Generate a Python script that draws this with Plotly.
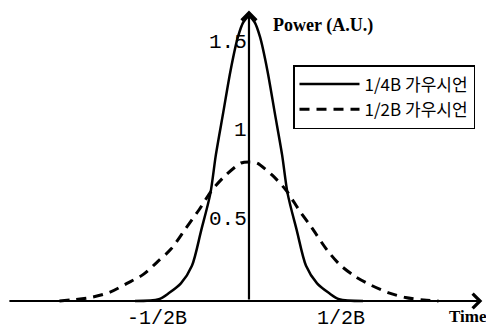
import plotly.graph_objects as go

# Time axis in units of 1/B; power in arbitrary units
solid_t = [-0.62, -0.49, -0.435, -0.37, -0.31, -0.26, -0.21, -0.18, -0.14, -0.10, -0.06, -0.03, 0.0,
           0.03, 0.06, 0.10, 0.14, 0.18, 0.21, 0.26, 0.31, 0.37, 0.435, 0.49, 0.62]
solid_p = [0.0, 0.01, 0.045, 0.10, 0.20, 0.40, 0.61, 0.83, 1.07, 1.31, 1.50, 1.585, 1.615,
           1.585, 1.50, 1.31, 1.07, 0.83, 0.61, 0.40, 0.20, 0.10, 0.045, 0.01, 0.0]

dash_t = [-1.03, -0.95, -0.85, -0.755, -0.663, -0.576, -0.495, -0.424, -0.342, -0.272, -0.201, -0.125, -0.043, 0.0,
          0.043, 0.125, 0.201, 0.272, 0.342, 0.424, 0.495, 0.576, 0.663, 0.755, 0.85, 0.95, 1.03]
dash_p = [0.0, 0.008, 0.022, 0.05, 0.10, 0.15, 0.225, 0.295, 0.415, 0.517, 0.63, 0.716, 0.784, 0.79,
          0.784, 0.716, 0.63, 0.517, 0.415, 0.29, 0.205, 0.14, 0.09, 0.048, 0.02, 0.006, 0.0]

series_names = ["1/4B 가우시언", "1/2B 가우시언"]
y_tick_vals = [0.5, 1.0, 1.5]
y_tick_text = ["0.5", "1", "1.5"]
x_tick_vals = [-0.5, 0.5]
x_tick_text = ["-1/2B", "1/2B"]

fig = go.Figure()
fig.add_trace(go.Scatter(x=solid_t, y=solid_p, mode="lines", name=series_names[0],
                         line=dict(color="black", width=2.5, shape="spline", smoothing=0.8)))
fig.add_trace(go.Scatter(x=dash_t, y=dash_p, mode="lines", name=series_names[1],
                         line=dict(color="black", width=3, dash="10px,7px", shape="spline", smoothing=0.8)))

mono = dict(family="Liberation Mono", size=21, color="black")
ann = []
# axes drawn as arrows
ann.append(dict(x=1.268, y=0, ax=-1.31, ay=0, xref="x", yref="y", axref="x", ayref="y",
                showarrow=True, arrowhead=4, arrowsize=1.3, arrowwidth=2.2, arrowcolor="black", text="", standoff=0))
ann.append(dict(x=0, y=1.65, ax=0, ay=0, xref="x", yref="y", axref="x", ayref="y",
                showarrow=True, arrowhead=4, arrowsize=1.3, arrowwidth=2.2, arrowcolor="black", text="", standoff=0))
for v, t in zip(y_tick_vals, y_tick_text):
    ann.append(dict(x=0, y=v, xref="x", yref="y", text=t, showarrow=False, xanchor="right", yanchor="middle",
                    xshift=0, yshift=-6, font=mono))
for v, t in zip(x_tick_vals, x_tick_text):
    ann.append(dict(x=v, y=-0.1, xref="x", yref="y", text=t, showarrow=False, xanchor="center", yanchor="middle",
                    font=dict(family="Liberation Mono", size=20, color="black")))
ann.append(dict(x=0.12, y=1.565, xref="x", yref="y", text="<b>Power (A.U.)</b>", showarrow=False,
                xanchor="left", yanchor="middle", font=dict(family="Liberation Serif", size=18, color="black")))
ann.append(dict(x=1.075, y=-0.09, xref="x", yref="y", text="<b>Time</b>", showarrow=False,
                xanchor="left", yanchor="middle", font=dict(family="Liberation Serif", size=17, color="black")))

fig.update_layout(
    width=486, height=329,
    margin=dict(l=0, r=0, t=0, b=0),
    paper_bgcolor="white", plot_bgcolor="white",
    xaxis=dict(range=[-1.353, 1.288], visible=False),
    yaxis=dict(range=[-0.159, 1.710], visible=False),
    annotations=ann,
    showlegend=True,
    legend=dict(x=293/486, y=1-65/329, xanchor="left", yanchor="top",
                bordercolor="black", borderwidth=1.5, bgcolor="white",
                font=dict(family="Noto Sans CJK KR", size=17, color="black"),
                itemwidth=60, tracegroupgap=0),
)
fig.write_html("out.html", post_script="document.body.style.margin='0';",
               config={"displayModeBar": False})
